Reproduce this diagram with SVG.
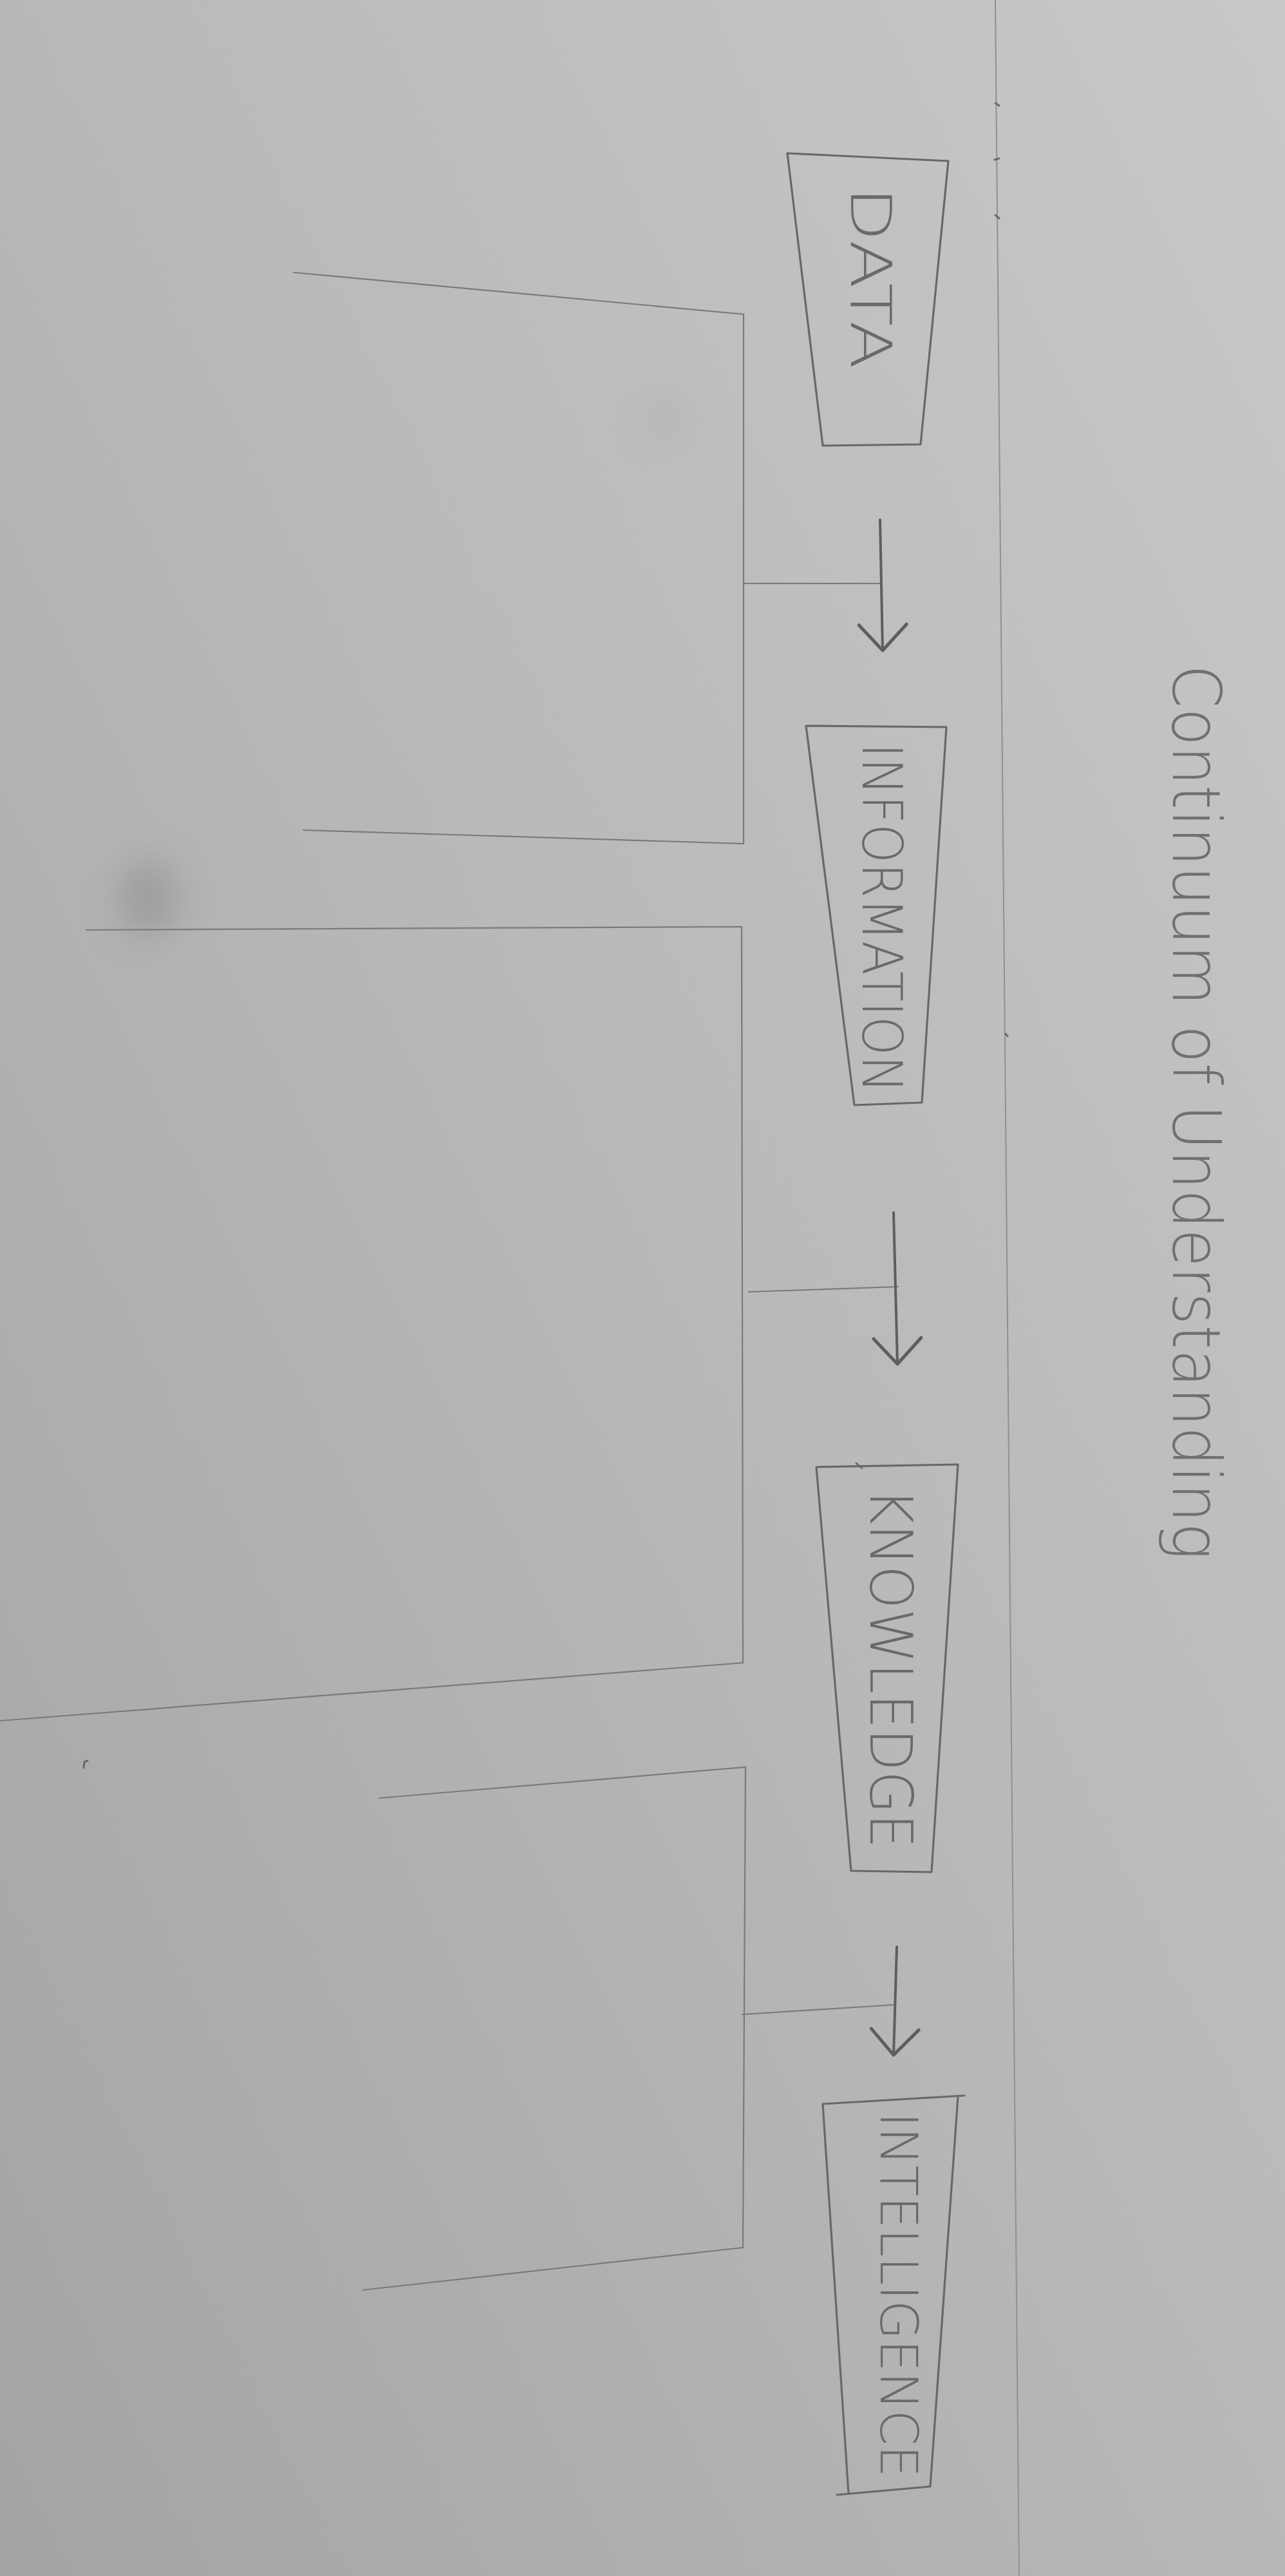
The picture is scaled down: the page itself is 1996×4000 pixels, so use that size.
<svg xmlns="http://www.w3.org/2000/svg" width="1996" height="4000" viewBox="0 0 1996 4000">
  <defs>
    <linearGradient id="paper" x1="1" y1="0" x2="0" y2="1">
      <stop offset="0" stop-color="#c8c8c8"/>
      <stop offset="0.5" stop-color="#b8b8b9"/>
      <stop offset="1" stop-color="#a4a4a6"/>
    </linearGradient>
    <filter id="smudge" x="-1" y="-1" width="3" height="3">
      <feGaussianBlur stdDeviation="28"/>
    </filter>
    <marker id="head" viewBox="-50 -50 60 100" markerWidth="60" markerHeight="100" refX="0" refY="0" orient="auto" markerUnits="userSpaceOnUse">
      <path d="M -40,-38 L 0,0 L -40,36" fill="none" stroke="#5e5e60" stroke-width="5" stroke-linecap="round" stroke-linejoin="round"/>
    </marker>
    <style>
      .box { fill: none; stroke: #68686a; stroke-width: 3.2; stroke-linejoin: round; stroke-linecap: round; }
      .wire { fill: none; stroke: #7a7a7c; stroke-width: 2.2; stroke-linecap: round; stroke-linejoin: miter; }
      .shaft { fill: none; stroke: #5e5e60; stroke-width: 4; stroke-linecap: round; marker-end: url(#head); }
      .label { font-family: "DejaVu Sans", "Liberation Sans", sans-serif; font-weight: 200; fill: #6a6a6c; }
      .title { font-family: "DejaVu Sans", "Liberation Sans", sans-serif; font-weight: 200; fill: #707072; }
      .mark { fill: none; stroke: #6a6a6c; stroke-width: 3; stroke-linecap: round; }
    </style>
  </defs>

  <!-- sheet of paper -->
  <rect x="0" y="0" width="1996" height="4000" fill="url(#paper)"/>
  <ellipse cx="230" cy="1395" rx="45" ry="60" fill="#8a8a8c" opacity="0.55" filter="url(#smudge)"/>
  <ellipse cx="1034" cy="651" rx="40" ry="40" fill="#9a9a9c" opacity="0.18" filter="url(#smudge)"/>

  <!-- ruled margin with small ticks -->
  <g id="margin">
    <line x1="1546" y1="0" x2="1583" y2="4000" stroke="#909092" stroke-width="2"/>
    <path class="mark" d="M1546,160 l6,4 M1545,248 l7,-2 M1546,334 l6,5"/>
    <path class="mark" d="M1562,1605 l3,4"/>
  </g>

  <!-- heading -->
  <g id="title">
    <text class="title" font-size="104" transform="translate(1822,1032) rotate(90)" textLength="1390" lengthAdjust="spacingAndGlyphs">Continuum of Understanding</text>
  </g>

  <!-- connectors: brackets, stubs and arrows -->
  <g id="connectors">
    <polyline class="wire" points="456,423 1155,488 1155,1310 471,1289"/>
    <line class="wire" x1="1155" y1="906" x2="1367" y2="906"/>
    <line class="shaft" x1="1367" y1="807" x2="1371" y2="1010"/>

    <polyline class="wire" points="134,1444 1152,1439 1154,2582 0,2672"/>
    <line class="wire" x1="1163" y1="2006" x2="1395" y2="1998"/>
    <line class="shaft" x1="1388" y1="1883" x2="1394" y2="2118"/>

    <polyline class="wire" points="589,2792 1158,2744 1154,3490 563,3556"/>
    <line class="wire" x1="1153" y1="3128" x2="1390" y2="3113"/>
    <line class="shaft" x1="1393" y1="3023" x2="1388" y2="3191"/>

    <path class="mark" d="M130,2745 l1,-9 l5,-2"/>
  </g>

  <!-- nodes -->
  <g id="node-data">
    <polygon class="box" points="1223,238 1473,250 1430,690 1278,692"/>
    <text class="label" font-size="88" transform="translate(1322,290) rotate(90)" textLength="283" lengthAdjust="spacingAndGlyphs">DATA</text>
  </g>

  <g id="node-information">
    <polygon class="box" points="1252,1127 1470,1129 1432,1712 1327,1716"/>
    <text class="label" font-size="86" transform="translate(1340,1154) rotate(90)" textLength="543" lengthAdjust="spacingAndGlyphs">INFORMATION</text>
  </g>

  <g id="node-knowledge">
    <polygon class="box" points="1268,2278 1488,2274 1447,2907 1322,2905"/>
    <path class="mark" d="M1330,2272 l9,8"/>
    <text class="label" font-size="90" transform="translate(1352,2311) rotate(90)" textLength="559" lengthAdjust="spacingAndGlyphs">KNOWLEDGE</text>
  </g>

  <g id="node-intelligence">
    <path class="box" d="M1278,3267 L1498,3254 M1488,3256 L1445,3861 L1300,3874 M1278,3267 L1318,3872"/>
    <text class="label" font-size="80" transform="translate(1368,3280) rotate(90)" textLength="567" lengthAdjust="spacingAndGlyphs">INTELLIGENCE</text>
  </g>
</svg>
